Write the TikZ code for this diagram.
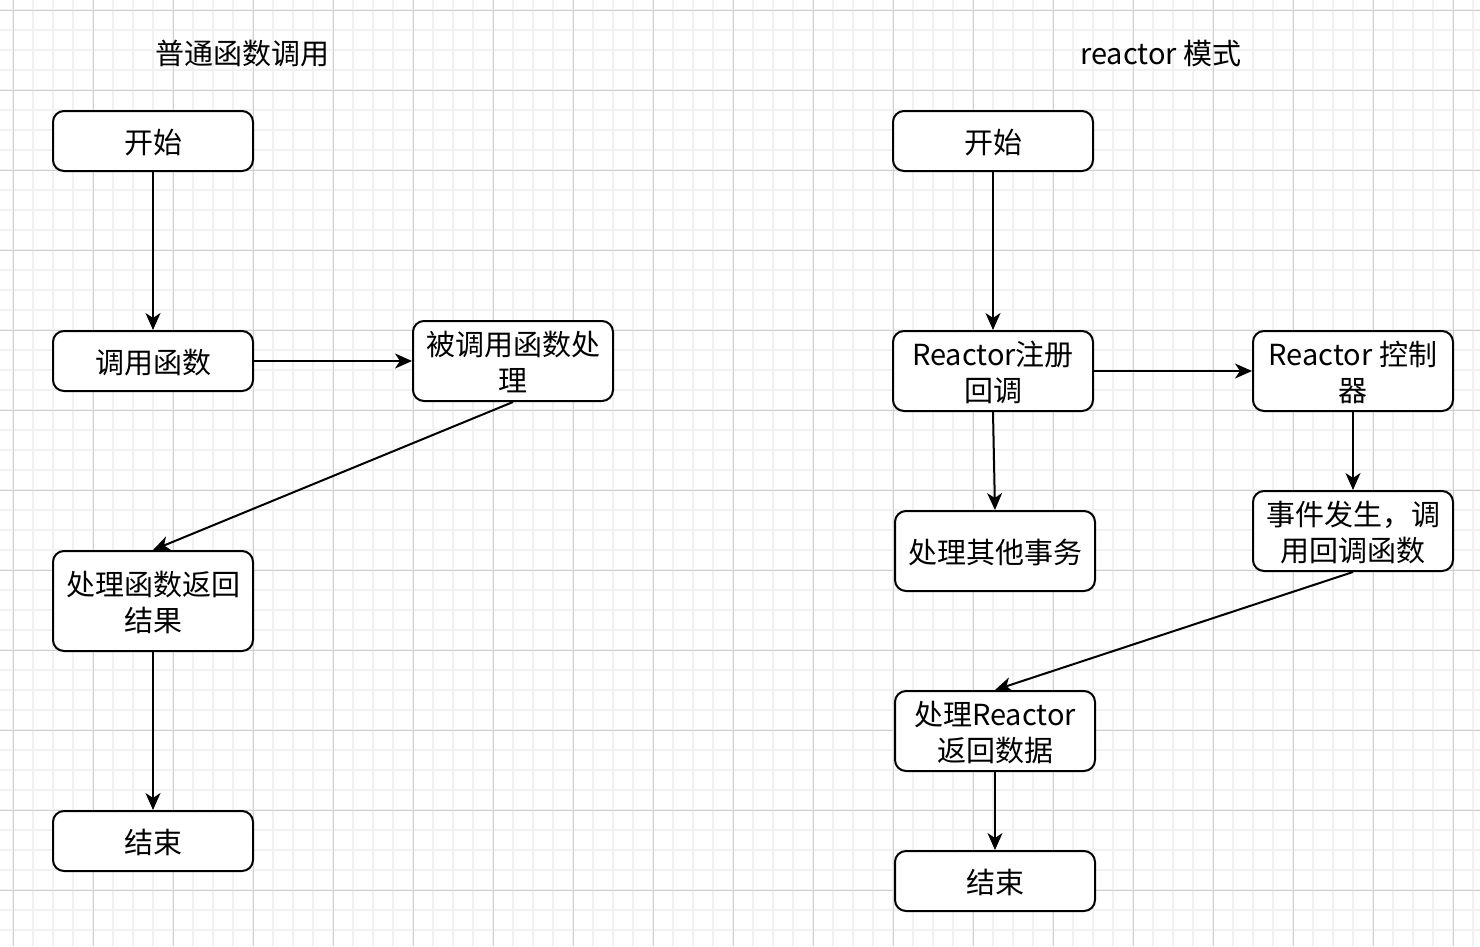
\documentclass[tikz,border=0pt]{standalone}
\usepackage{fontspec}
\setmainfont{Noto Sans CJK SC}
\usetikzlibrary{arrows.meta}
\definecolor{gridminor}{HTML}{F1F1F1}
\definecolor{gridmajor}{HTML}{D0D0D0}
\tikzset{
  stepbox/.style={draw=black, line width=2pt, rounded corners=11pt, fill=white,
    minimum width=200pt, inner sep=0pt, align=center, text depth=0pt,
    font=\fontsize{29}{36}\selectfont},
  flow/.style={draw=black, line width=2pt,
    -{Stealth[length=17pt,width=15pt,inset=5pt]}},
  title/.style={font=\fontsize{29}{36}\selectfont, inner sep=0pt}
}
\begin{document}
\begin{tikzpicture}[x=1pt,y=-1pt]
\useasboundingbox (0,0) rectangle (1480,946);
\fill[white] (0,0) rectangle (1480,946);
% grid
\foreach \x in {13,33,...,1473} \draw[gridminor, line width=2pt] (\x,0) -- (\x,946);
\foreach \y in {10,30,...,940} \draw[gridminor, line width=2pt] (0,\y) -- (1480,\y);
\foreach \x in {13,93,...,1473} \draw[gridmajor, line width=1pt] (\x,0) -- (\x,946);
\foreach \y in {10,90,...,940} \draw[gridmajor, line width=1pt] (0,\y) -- (1480,\y);

% titles
\node[title] (t1) at (242,54) {普通函数调用};
\node[title] (t2) at (1161,54) {reactor 模式};

% left column
\node[stepbox, minimum height=60pt] (a1) at (153,141) {开始};
\node[stepbox, minimum height=60pt] (a2) at (153,361) {调用函数};
\node[stepbox, minimum height=80pt] (a3) at (513,361) {被调用函数处\\理};
\node[stepbox, minimum height=100pt] (a4) at (153,601) {处理函数返回\\结果};
\node[stepbox, minimum height=60pt] (a5) at (153,841) {结束};

\draw[flow] (a1.south) -- (a2.north);
\draw[flow] (a2.east) -- (a3.west);
\draw[flow] (a3.south) -- (a4.north);
\draw[flow] (a4.south) -- (a5.north);

% right column
\node[stepbox, minimum height=60pt] (b1) at (993,141) {开始};
\node[stepbox, minimum height=80pt] (b2) at (993,371) {Reactor注册\\回调};
\node[stepbox, minimum height=80pt] (b3) at (1353,371) {Reactor 控制\\器};
\node[stepbox, minimum height=80pt] (b4) at (995,551) {处理其他事务};
\node[stepbox, minimum height=80pt] (b5) at (1353,531) {事件发生，调\\用回调函数};
\node[stepbox, minimum height=80pt] (b6) at (995,731) {处理Reactor\\返回数据};
\node[stepbox, minimum height=60pt] (b7) at (995,881) {结束};

\draw[flow] (b1.south) -- (b2.north);
\draw[flow] (b2.east) -- (b3.west);
\draw[flow] (b2.south) -- (b4.north);
\draw[flow] (b3.south) -- (b5.north);
\draw[flow] (b5.south) -- (b6.north);
\draw[flow] (b6.south) -- (b7.north);
\end{tikzpicture}
\end{document}
